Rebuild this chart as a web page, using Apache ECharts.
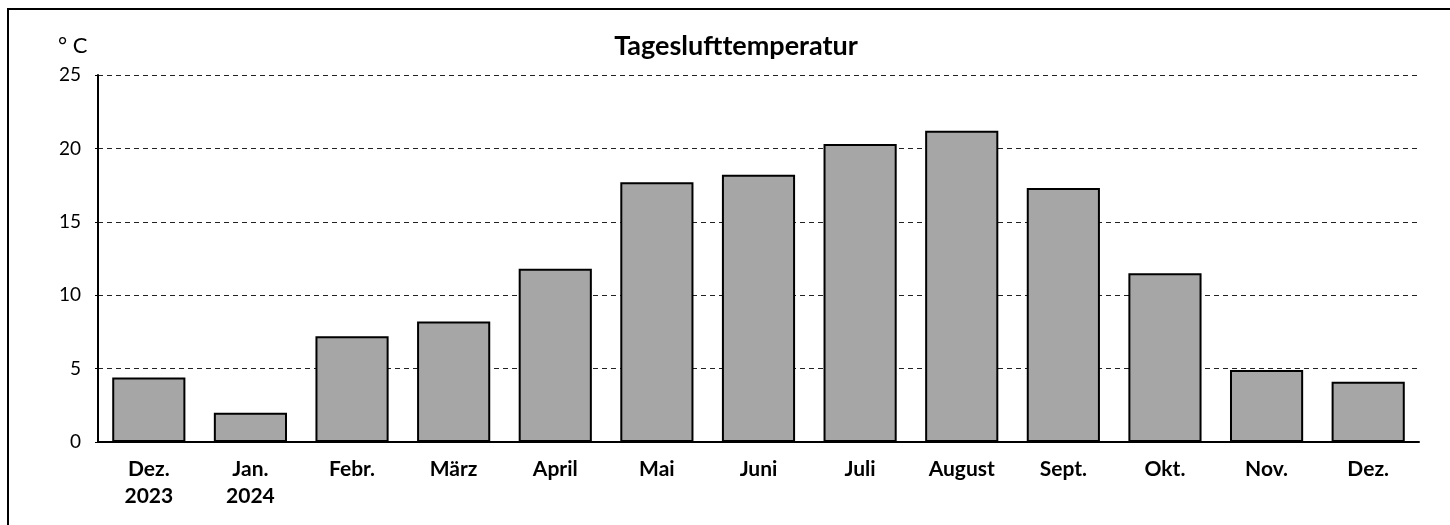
<!DOCTYPE html>
<html>
<head>
<meta charset="utf-8">
<script src="https://cdn.jsdelivr.net/npm/echarts@6/dist/echarts.min.js"></script>
<style>
  html, body { margin: 0; padding: 0; background: #fff; }
  #chart { width: 1450px; height: 525px; }
</style>
</head>
<body>
<div id="chart"></div>
<script>
// months (second line = year where shown)
const months = ['Dez.\n2023', 'Jan.\n2024', 'Febr.', 'März', 'April', 'Mai', 'Juni', 'Juli', 'August', 'Sept.', 'Okt.', 'Nov.', 'Dez.'];
// mean daily air temperature, °C
const temps = [4.4, 2.0, 7.2, 8.2, 11.8, 17.7, 18.2, 20.3, 21.2, 17.3, 11.5, 4.9, 4.1];

const dom = document.getElementById('chart');
const chart = echarts.init(dom, null, { renderer: 'canvas' });

const option = {
    animation: false,
    backgroundColor: '#fff',
    textStyle: { fontFamily: 'Lato' },
    title: {
        text: 'Tageslufttemperatur',
        left: 731,
        top: 28,
        textAlign: 'center',
        textStyle: { fontFamily: 'Lato', fontWeight: 'bold', fontSize: 27, color: '#000' }
    },
    graphic: [
        {
            type: 'rect',
            shape: { x: 8, y: 9, width: 1460, height: 540 },
            style: { fill: null, stroke: '#000', lineWidth: 2 }
        },
        {
            type: 'text',
            x: 58,
            y: 46,
            style: { text: '° C', font: '22px Lato', fill: '#000', verticalAlign: 'middle' }
        }
    ],
    grid: { left: 98, right: 31, top: 75, bottom: 83 },
    xAxis: {
        type: 'category',
        data: months,
        axisLine: { lineStyle: { color: '#000', width: 2 } },
        axisTick: { show: false },
        axisLabel: {
            color: '#000', fontWeight: 'bold', fontSize: 21, fontFamily: 'Lato',
            margin: 14, lineHeight: 27, interval: 0
        }
    },
    yAxis: {
        type: 'value',
        min: 0,
        max: 25,
        interval: 5,
        axisLine: { show: true, lineStyle: { color: '#000', width: 2 } },
        axisTick: { show: true, length: 3, lineStyle: { color: '#000' } },
        axisLabel: { color: '#000', fontSize: 19, fontFamily: 'Lato', margin: 17 },
        splitLine: { lineStyle: { color: '#222', type: [5, 4], width: 1 } }
    },
    series: [
        {
            type: 'bar',
            data: temps,
            barCategoryGap: '28%',
            itemStyle: { color: '#a6a6a6', borderColor: '#000', borderWidth: 2 }
        }
    ]
};

chart.setOption(option);
</script>
</body>
</html>
